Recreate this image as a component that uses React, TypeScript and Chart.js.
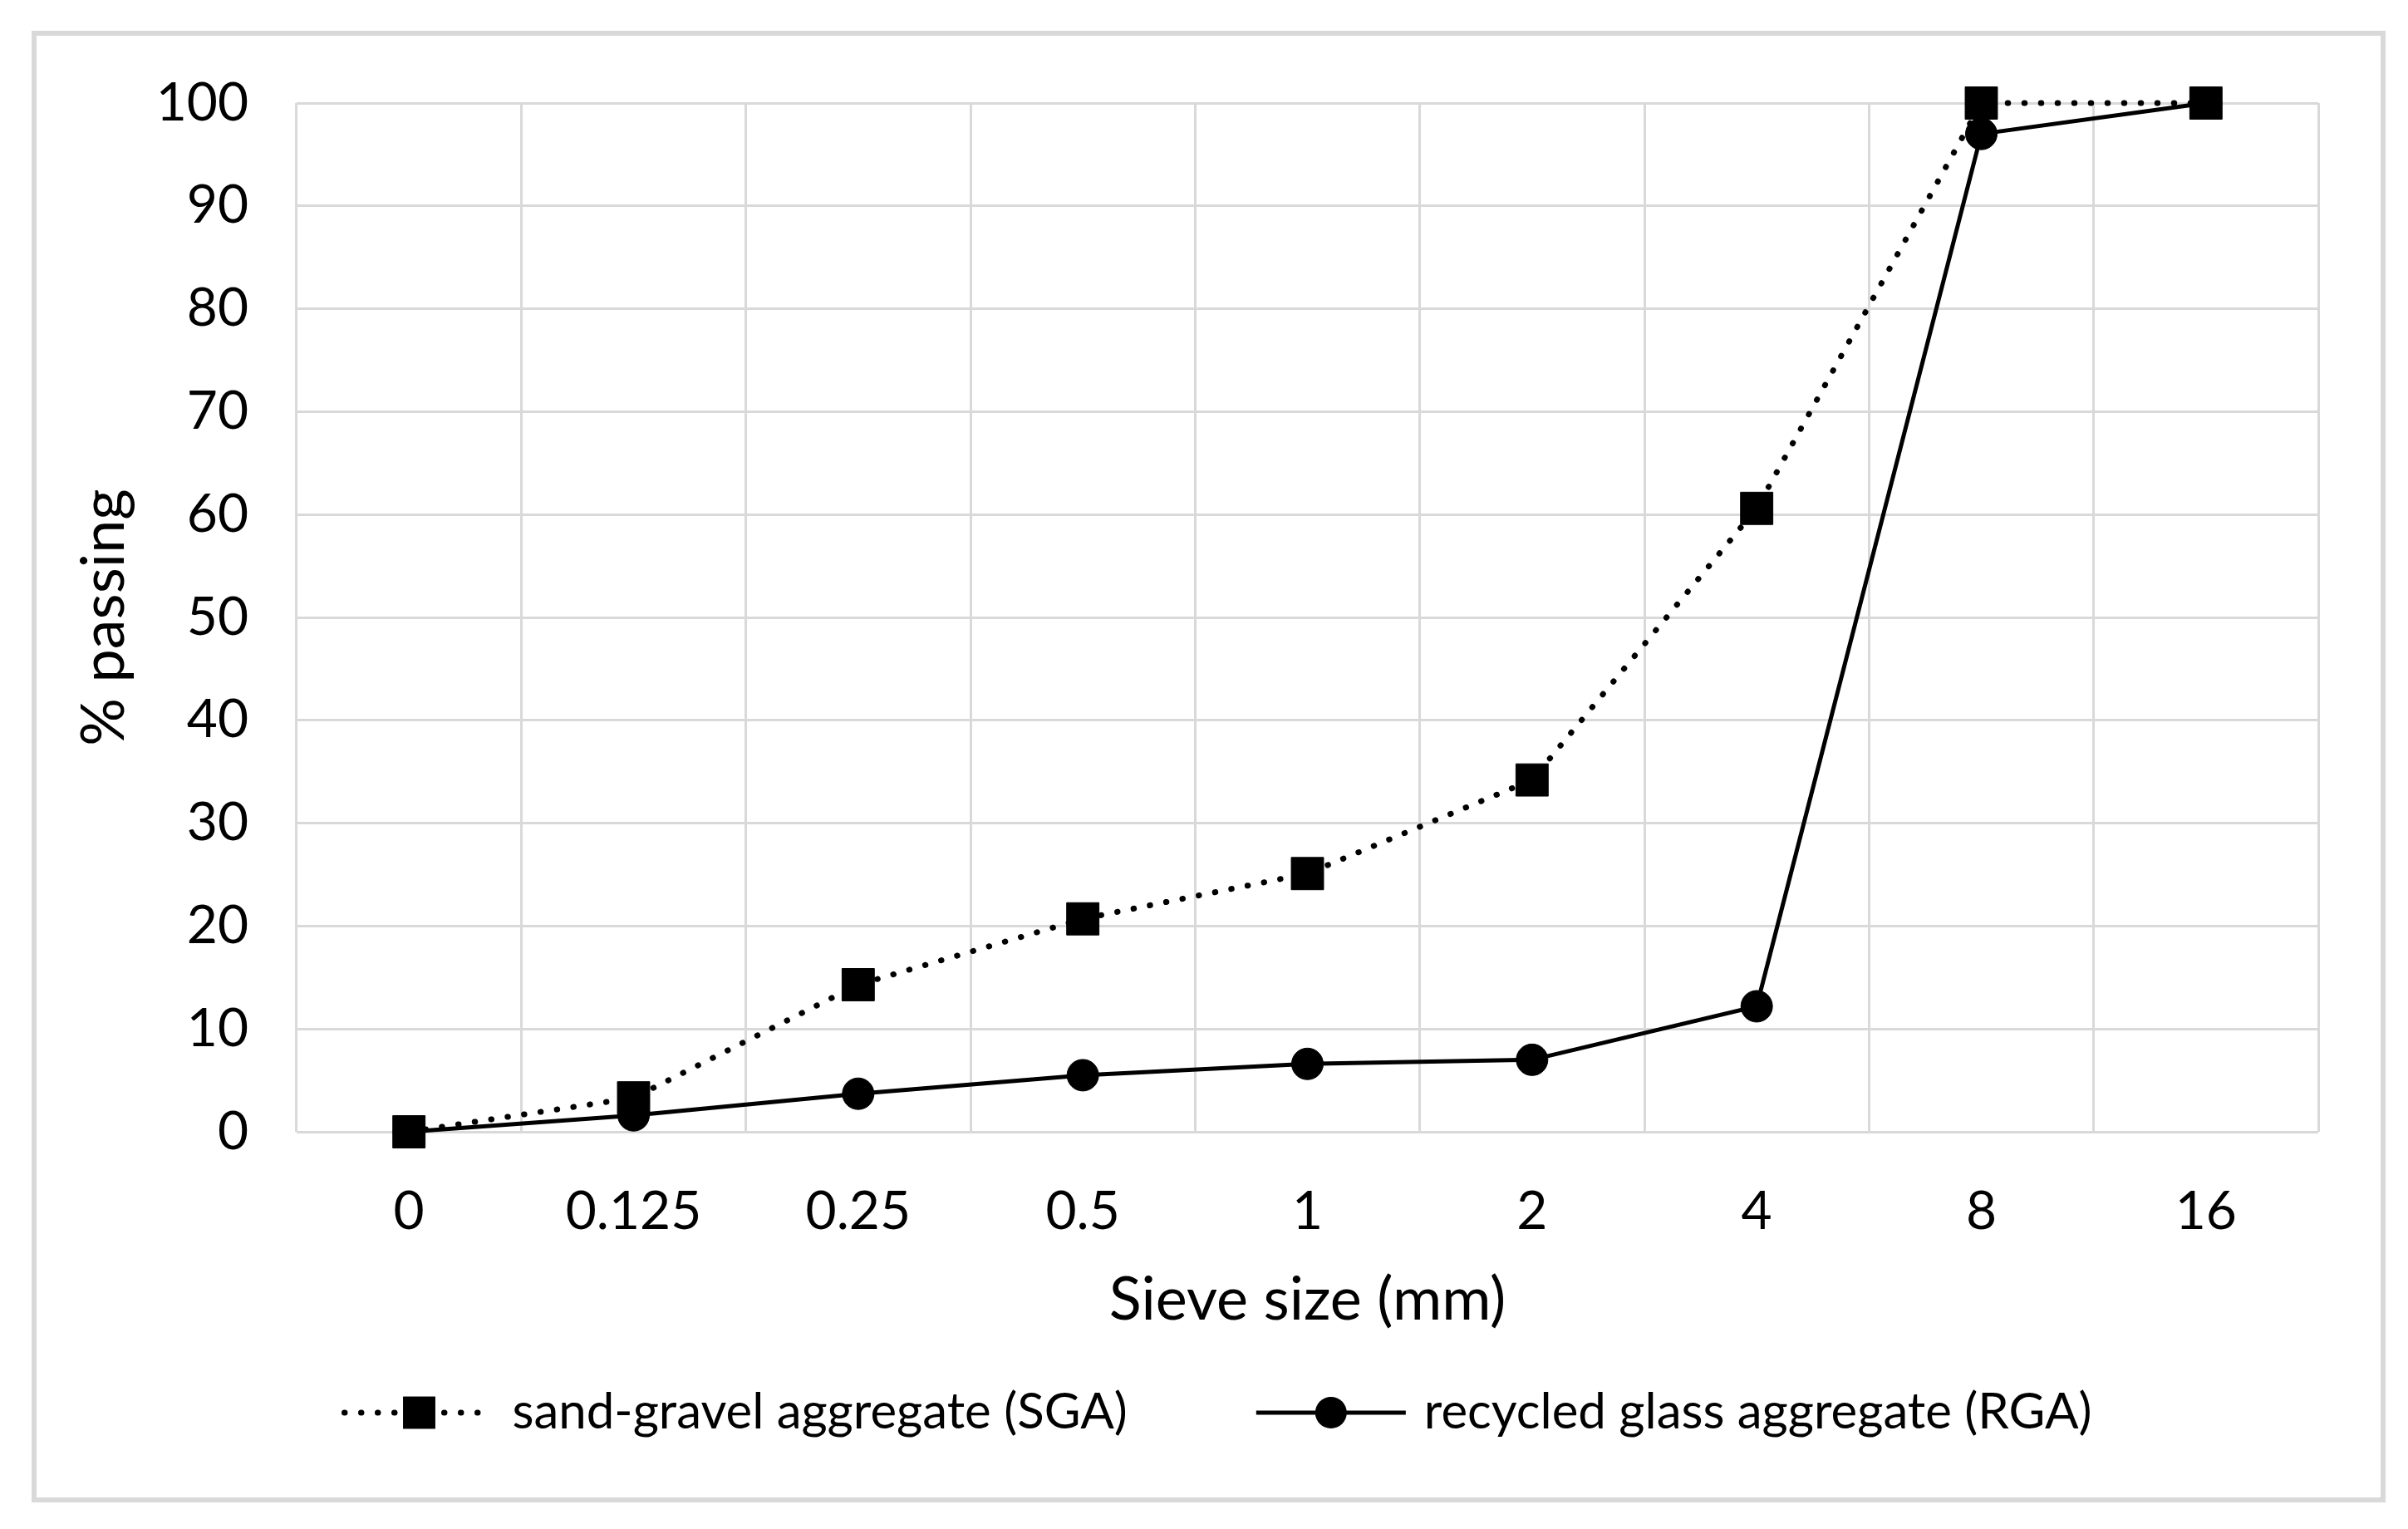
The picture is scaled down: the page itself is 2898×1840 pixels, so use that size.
import React, { useEffect, useRef } from 'react';
import { Chart, registerables } from 'chart.js';

Chart.register(...registerables);

// ---- data ----
const sieveSizes = ['0', '0.125', '0.25', '0.5', '1', '2', '4', '8', '16'];
const sgaValues = [0, 3.3, 14.3, 20.7, 25.1, 34.2, 60.6, 100, 100];
const rgaValues = [0, 1.6, 3.7, 5.5, 6.6, 7.0, 12.2, 97.0, 100];
const seriesNames = ['sand-gravel aggregate (SGA)', 'recycled glass aggregate (RGA)'];
const xTitle = 'Sieve size (mm)';
const yTitle = '% passing';
const yMin = 0;
const yMax = 100;
const yStep = 10;

const W = 2898;
const H = 1840;
const FONT = 'Lato, "Open Sans", sans-serif';
const TICK_FS = 64;
const TITLE_FS = 72;
const LEG_FS = 60;
const GRID = '#d9d9d9';

const frameLegendPlugin = {
  id: 'frameLegend',
  beforeDraw(chart: any) {
    const ctx = chart.ctx;
    ctx.save();
    ctx.fillStyle = '#ffffff';
    ctx.fillRect(0, 0, chart.width, chart.height);
    ctx.strokeStyle = GRID;
    ctx.lineWidth = 6;
    ctx.strokeRect(41, 40, 2827, 1765);
    ctx.restore();
  },
  afterDraw(chart: any) {
    const ctx = chart.ctx;
    ctx.save();
    ctx.font = `${LEG_FS}px ${FONT}`;
    ctx.textBaseline = 'middle';
    ctx.textAlign = 'left';
    ctx.fillStyle = '#000';
    const t1 = ctx.measureText(seriesNames[0]).width;
    const t2 = ctx.measureText(seriesNames[1]).width;
    const symW = 180;
    const gapT = 22;
    const gapI = 155;
    const total = symW + gapT + t1 + gapI + symW + gapT + t2;
    let x = 1466 - total / 2;
    const y = 1700;
    const dss = chart.data.datasets;
    const drawSym = (ds: any, x0: number) => {
      ctx.save();
      ctx.strokeStyle = ds.borderColor;
      ctx.lineWidth = ds.borderWidth;
      ctx.lineCap = ds.borderCapStyle || 'butt';
      ctx.setLineDash(ds.borderDash || []);
      ctx.beginPath();
      ctx.moveTo(x0, y);
      ctx.lineTo(x0 + symW, y);
      ctx.stroke();
      ctx.setLineDash([]);
      ctx.fillStyle = ds.pointBackgroundColor;
      const cx = x0 + symW / 2;
      if (ds.pointStyle === 'rect') {
        const s = Math.SQRT1_2 * ds.pointRadius;
        ctx.fillRect(cx - s, y - s, 2 * s, 2 * s);
      } else {
        ctx.beginPath();
        ctx.arc(cx, y, ds.pointRadius, 0, Math.PI * 2);
        ctx.fill();
      }
      ctx.restore();
    };
    drawSym(dss[0], x);
    x += symW + gapT;
    ctx.fillText(seriesNames[0], x, y);
    x += t1 + gapI;
    drawSym(dss[1], x);
    x += symW + gapT;
    ctx.fillText(seriesNames[1], x, y);
    ctx.restore();
  },
};

export default function App() {
  const ref = useRef<HTMLCanvasElement | null>(null);
  useEffect(() => {
    if (!ref.current) return;
    const chart = new Chart(ref.current, {
      type: 'line',
      data: {
        labels: sieveSizes,
        datasets: [
          {
            label: seriesNames[0],
            data: sgaValues,
            borderColor: '#000',
            backgroundColor: '#000',
            borderWidth: 7,
            borderDash: [0.5, 19.5],
            borderCapStyle: 'round',
            pointStyle: 'rect',
            pointRadius: 27.5,
            pointBorderWidth: 1,
            pointBackgroundColor: '#000',
            pointBorderColor: '#000',
            tension: 0,
            clip: false,
          } as any,
          {
            label: seriesNames[1],
            data: rgaValues,
            borderColor: '#000',
            backgroundColor: '#000',
            borderWidth: 5,
            pointStyle: 'circle',
            pointRadius: 19,
            pointBorderWidth: 1,
            pointBackgroundColor: '#000',
            pointBorderColor: '#000',
            tension: 0,
            clip: false,
          } as any,
        ],
      },
      options: {
        responsive: false,
        animation: false,
        devicePixelRatio: 1,
        layout: { padding: { left: 83, top: 124, right: 108, bottom: 232 } },
        plugins: {
          legend: { display: false },
          tooltip: { enabled: false },
        },
        scales: {
          x: {
            type: 'category',
            offset: true,
            grid: { offset: true, color: GRID, lineWidth: 3, drawTicks: false },
            border: { display: false },
            ticks: { color: '#000', font: { family: FONT, size: TICK_FS }, padding: 58, maxRotation: 0 },
            title: {
              display: true,
              text: xTitle,
              color: '#000',
              font: { family: FONT, size: TITLE_FS },
              padding: 0,
            },
            afterFit: (s: any) => {
              s.height = 246;
            },
          },
          y: {
            min: yMin,
            max: yMax,
            grid: { color: GRID, lineWidth: 3, drawTicks: false },
            border: { display: false },
            ticks: { stepSize: yStep, color: '#000', font: { family: FONT, size: TICK_FS }, padding: 58 },
            title: {
              display: true,
              text: yTitle,
              color: '#000',
              font: { family: FONT, size: TITLE_FS },
              padding: 0,
            },
            afterFit: (s: any) => {
              s.width = 274;
            },
          },
        },
      },
      plugins: [frameLegendPlugin],
    });
    return () => chart.destroy();
  }, []);
  return (
    <div style={{ position: 'absolute', left: 0, top: 0, width: W, height: H, background: '#fff' }}>
      <canvas ref={ref} width={W} height={H} style={{ width: W, height: H, display: 'block' }} />
    </div>
  );
}
